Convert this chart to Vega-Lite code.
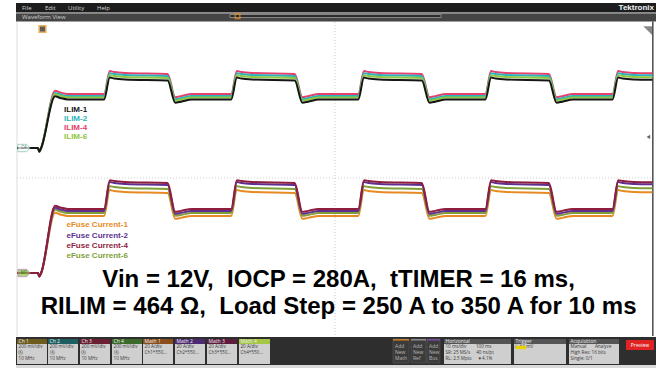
{
"$schema":"https://vega.github.io/schema/vega-lite/v6.json",
"width":656,"height":368,
"autosize":{"type":"fit","contains":"padding"},
"padding":0,
"background":"white",
"config":{"view":{"stroke":null},"axis":{"disable":true},"legend":{"disable":true}},
"resolve":{"scale":{"color":"independent"}},
"data":{"values":[{}]},
"datasets":{
"wave":[
{"t":0,"I1":0.987,"I2":0.987,"I4":0.987,"I6":0.987,"E1":-2.994,"E2":-2.994,"E4":-2.994,"E6":-2.994},
{"t":3.3,"I1":0.987,"I2":0.987,"I4":0.987,"I6":0.987,"E1":-2.994,"E2":-2.994,"E4":-2.994,"E6":-2.994},
{"t":3.5,"I1":0.867,"I2":0.867,"I4":0.867,"I6":0.867,"E1":-3.104,"E2":-3.104,"E4":-3.104,"E6":-3.104},
{"t":3.8,"I1":0.987,"I2":0.987,"I4":0.987,"I6":0.987,"E1":-2.994,"E2":-2.994,"E4":-2.994,"E6":-2.994},
{"t":6.0,"I1":2.632,"I2":2.743,"I4":2.807,"I6":2.696,"E1":-1.078,"E2":-0.919,"E4":-0.855,"E6":-0.983},
{"t":6.8,"I1":2.582,"I2":2.693,"I4":2.757,"I6":2.646,"E1":-1.128,"E2":-0.969,"E4":-0.905,"E6":-1.033},
{"t":8.0,"I1":2.532,"I2":2.643,"I4":2.707,"I6":2.596,"E1":-1.178,"E2":-1.019,"E4":-0.955,"E6":-1.083},
{"t":13.7,"I1":2.532,"I2":2.643,"I4":2.707,"I6":2.596,"E1":-1.178,"E2":-1.019,"E4":-0.955,"E6":-1.083},
{"t":14.6,"I1":3.229,"I2":3.372,"I4":3.436,"I6":3.308,"E1":-0.354,"E2":-0.099,"E4":-0.036,"E6":-0.227},
{"t":15.3,"I1":3.199,"I2":3.342,"I4":3.406,"I6":3.278,"E1":-0.384,"E2":-0.129,"E4":-0.066,"E6":-0.257},
{"t":17.0,"I1":3.169,"I2":3.312,"I4":3.376,"I6":3.248,"E1":-0.414,"E2":-0.159,"E4":-0.096,"E6":-0.287},
{"t":23.7,"I1":3.139,"I2":3.282,"I4":3.346,"I6":3.218,"E1":-0.444,"E2":-0.189,"E4":-0.126,"E6":-0.317},
{"t":24.9,"I1":2.432,"I2":2.543,"I4":2.607,"I6":2.496,"E1":-1.268,"E2":-1.109,"E4":-1.045,"E6":-1.173},
{"t":25.8,"I1":2.462,"I2":2.573,"I4":2.637,"I6":2.526,"E1":-1.238,"E2":-1.079,"E4":-1.015,"E6":-1.143},
{"t":27.5,"I1":2.532,"I2":2.643,"I4":2.707,"I6":2.596,"E1":-1.178,"E2":-1.019,"E4":-0.955,"E6":-1.083},
{"t":33.7,"I1":2.532,"I2":2.643,"I4":2.707,"I6":2.596,"E1":-1.178,"E2":-1.019,"E4":-0.955,"E6":-1.083},
{"t":34.6,"I1":3.229,"I2":3.372,"I4":3.436,"I6":3.308,"E1":-0.354,"E2":-0.099,"E4":-0.036,"E6":-0.227},
{"t":35.3,"I1":3.199,"I2":3.342,"I4":3.406,"I6":3.278,"E1":-0.384,"E2":-0.129,"E4":-0.066,"E6":-0.257},
{"t":37.0,"I1":3.169,"I2":3.312,"I4":3.376,"I6":3.248,"E1":-0.414,"E2":-0.159,"E4":-0.096,"E6":-0.287},
{"t":43.7,"I1":3.139,"I2":3.282,"I4":3.346,"I6":3.218,"E1":-0.444,"E2":-0.189,"E4":-0.126,"E6":-0.317},
{"t":44.9,"I1":2.432,"I2":2.543,"I4":2.607,"I6":2.496,"E1":-1.268,"E2":-1.109,"E4":-1.045,"E6":-1.173},
{"t":45.8,"I1":2.462,"I2":2.573,"I4":2.637,"I6":2.526,"E1":-1.238,"E2":-1.079,"E4":-1.015,"E6":-1.143},
{"t":47.5,"I1":2.532,"I2":2.643,"I4":2.707,"I6":2.596,"E1":-1.178,"E2":-1.019,"E4":-0.955,"E6":-1.083},
{"t":53.7,"I1":2.532,"I2":2.643,"I4":2.707,"I6":2.596,"E1":-1.178,"E2":-1.019,"E4":-0.955,"E6":-1.083},
{"t":54.6,"I1":3.229,"I2":3.372,"I4":3.436,"I6":3.308,"E1":-0.354,"E2":-0.099,"E4":-0.036,"E6":-0.227},
{"t":55.3,"I1":3.199,"I2":3.342,"I4":3.406,"I6":3.278,"E1":-0.384,"E2":-0.129,"E4":-0.066,"E6":-0.257},
{"t":57.0,"I1":3.169,"I2":3.312,"I4":3.376,"I6":3.248,"E1":-0.414,"E2":-0.159,"E4":-0.096,"E6":-0.287},
{"t":63.7,"I1":3.139,"I2":3.282,"I4":3.346,"I6":3.218,"E1":-0.444,"E2":-0.189,"E4":-0.126,"E6":-0.317},
{"t":64.9,"I1":2.432,"I2":2.543,"I4":2.607,"I6":2.496,"E1":-1.268,"E2":-1.109,"E4":-1.045,"E6":-1.173},
{"t":65.8,"I1":2.462,"I2":2.573,"I4":2.637,"I6":2.526,"E1":-1.238,"E2":-1.079,"E4":-1.015,"E6":-1.143},
{"t":67.5,"I1":2.532,"I2":2.643,"I4":2.707,"I6":2.596,"E1":-1.178,"E2":-1.019,"E4":-0.955,"E6":-1.083},
{"t":73.7,"I1":2.532,"I2":2.643,"I4":2.707,"I6":2.596,"E1":-1.178,"E2":-1.019,"E4":-0.955,"E6":-1.083},
{"t":74.6,"I1":3.229,"I2":3.372,"I4":3.436,"I6":3.308,"E1":-0.354,"E2":-0.099,"E4":-0.036,"E6":-0.227},
{"t":75.3,"I1":3.199,"I2":3.342,"I4":3.406,"I6":3.278,"E1":-0.384,"E2":-0.129,"E4":-0.066,"E6":-0.257},
{"t":77.0,"I1":3.169,"I2":3.312,"I4":3.376,"I6":3.248,"E1":-0.414,"E2":-0.159,"E4":-0.096,"E6":-0.287},
{"t":83.7,"I1":3.139,"I2":3.282,"I4":3.346,"I6":3.218,"E1":-0.444,"E2":-0.189,"E4":-0.126,"E6":-0.317},
{"t":84.9,"I1":2.432,"I2":2.543,"I4":2.607,"I6":2.496,"E1":-1.268,"E2":-1.109,"E4":-1.045,"E6":-1.173},
{"t":85.8,"I1":2.462,"I2":2.573,"I4":2.637,"I6":2.526,"E1":-1.238,"E2":-1.079,"E4":-1.015,"E6":-1.143},
{"t":87.5,"I1":2.532,"I2":2.643,"I4":2.707,"I6":2.596,"E1":-1.178,"E2":-1.019,"E4":-0.955,"E6":-1.083},
{"t":93.7,"I1":2.532,"I2":2.643,"I4":2.707,"I6":2.596,"E1":-1.178,"E2":-1.019,"E4":-0.955,"E6":-1.083},
{"t":94.6,"I1":3.229,"I2":3.372,"I4":3.436,"I6":3.308,"E1":-0.354,"E2":-0.099,"E4":-0.036,"E6":-0.227},
{"t":95.3,"I1":3.199,"I2":3.342,"I4":3.406,"I6":3.278,"E1":-0.384,"E2":-0.129,"E4":-0.066,"E6":-0.257},
{"t":97.0,"I1":3.169,"I2":3.312,"I4":3.376,"I6":3.248,"E1":-0.414,"E2":-0.159,"E4":-0.096,"E6":-0.287},
{"t":100.0,"I1":3.159,"I2":3.302,"I4":3.366,"I6":3.238,"E1":-0.424,"E2":-0.169,"E4":-0.106,"E6":-0.297}
],
"labels":[
{"code":"I1","label":"ILIM-1","t":7.4,"v":2.197},
{"code":"I2","label":"ILIM-2","t":7.4,"v":1.911},
{"code":"I4","label":"ILIM-4","t":7.4,"v":1.624},
{"code":"I6","label":"ILIM-6","t":7.4,"v":1.338},
{"code":"E1","label":"eFuse Current-1","t":7.79,"v":-1.465},
{"code":"E2","label":"eFuse Current-2","t":7.79,"v":-1.815},
{"code":"E4","label":"eFuse Current-4","t":7.79,"v":-2.134},
{"code":"E6","label":"eFuse Current-6","t":7.79,"v":-2.452}
],
"notes":[
{"line":"Vin = 12V,\u00a0 IOCP = 280A,\u00a0 tTIMER = 16 ms,","t":50.6,"v":-3.439},
{"line":"RILIM = 464 Ω,\u00a0 Load Step = 250 A to 350 A for 10 ms","t":50.6,"v":-4.299}
],
"menu":[
{"label":"File","t":0.79},{"label":"Edit","t":4.41},{"label":"Utility","t":8.03},{"label":"Help","t":12.59}
],
"tags":[
{"tag":"C4","t":1.1,"v":0.987},{"tag":"M1","t":1.1,"v":-2.994}
],
"boxes":[
{"name":"Ch 1","t0":0,"t1":4.72,"l1":"200 mV/div","l2":"Ⓐ","l3":"10 MHz"},
{"name":"Ch 2","t0":4.88,"t1":9.6,"l1":"200 mV/div","l2":"Ⓐ","l3":"10 MHz"},
{"name":"Ch 3","t0":9.91,"t1":14.63,"l1":"200 mV/div","l2":"Ⓐ","l3":"10 MHz"},
{"name":"Ch 4","t0":14.95,"t1":19.67,"l1":"200 mV/div","l2":"Ⓐ","l3":"10 MHz"},
{"name":"Math 1","t0":19.83,"t1":24.55,"l1":"20 A/div","l2":"Ch1*550...","l3":""},
{"name":"Math 2","t0":24.86,"t1":29.58,"l1":"20 A/div","l2":"Ch2*550...","l3":""},
{"name":"Math 3","t0":29.9,"t1":34.62,"l1":"20 A/div","l2":"Ch3*550...","l3":""},
{"name":"Math 4","t0":34.93,"t1":39.81,"l1":"20 A/div","l2":"Ch4*550...","l3":""},
{"name":"Horizontal","t0":67.19,"t1":77.73,"l1":"10 ms/div\u00a0\u00a0\u00a0\u00a0\u00a0\u00a0\u00a0 100 ms","l2":"SR: 25 MS/s\u00a0\u00a0\u00a0\u00a0 40 ns/pt","l3":"RL: 2.5 Mpts\u00a0\u00a0\u00a0\u00a0 ▼4.1%"},
{"name":"Trigger","t0":78.21,"t1":86.39,"l1":"\u00a0\u00a0\u00a0\u00a0\u00a0\u00a0\u00a0\u00a0 ⁄\u00a0\u00a0 64 mV","l2":"","l3":""},
{"name":"Acquisition","t0":86.86,"t1":94.73,"l1":"Manual\u00a0\u00a0\u00a0\u00a0\u00a0\u00a0 Analyze","l2":"High Res: 16 bits","l3":"Single: 0/1"}
],
"addnew":[
{"name":"Math","t0":59.17,"t1":61.7},{"name":"Ref","t0":62.0,"t1":64.36},{"name":"Bus","t0":64.52,"t1":66.56}
]
},
"layer":[
{"mark":{"type":"rect","color":"#1d1d1d"},"encoding":{"x":{"datum":-0.157,"scale":{"domain":[-2.675,100.55],"nice":false,"zero":false}},"x2":{"datum":100.55},"y":{"datum":5.605,"scale":{"domain":[-6.019,5.701],"nice":false,"zero":false}},"y2":{"datum":5.318}}},
{"mark":{"type":"rect","color":"#8a8a8a"},"encoding":{"x":{"datum":-0.157,"scale":{"domain":[-2.675,100.55],"nice":false,"zero":false}},"x2":{"datum":100.55},"y":{"datum":5.318,"scale":{"domain":[-6.019,5.701],"nice":false,"zero":false}},"y2":{"datum":5.27}}},
{"mark":{"type":"rect","color":"#454545"},"encoding":{"x":{"datum":-0.157,"scale":{"domain":[-2.675,100.55],"nice":false,"zero":false}},"x2":{"datum":100.55},"y":{"datum":5.27,"scale":{"domain":[-6.019,5.701],"nice":false,"zero":false}},"y2":{"datum":5.016}}},
{"mark":{"type":"rect","fill":"#2c2c2c","stroke":"#9a9a9a","strokeWidth":0.8},"encoding":{"x":{"datum":33.52,"scale":{"domain":[-2.675,100.55],"nice":false,"zero":false}},"x2":{"datum":66.72},"y":{"datum":5.239,"scale":{"domain":[-6.019,5.701],"nice":false,"zero":false}},"y2":{"datum":5.143}}},
{"mark":{"type":"point","shape":"square","size":22,"filled":false,"color":"#e8901c","strokeWidth":1.5},"encoding":{"x":{"datum":34.7,"scale":{"domain":[-2.675,100.55],"nice":false,"zero":false}},"y":{"datum":5.19,"scale":{"domain":[-6.019,5.701],"nice":false,"zero":false}}}},
{"data":{"name":"menu"},"mark":{"type":"text","align":"left","baseline":"middle","fontSize":6,"font":"Open Sans","color":"#d8d8d8"},"encoding":{"x":{"field":"t","type":"quantitative","scale":{"domain":[-2.675,100.55],"nice":false,"zero":false}},"y":{"datum":5.462,"scale":{"domain":[-6.019,5.701],"nice":false,"zero":false}},"text":{"field":"label"}}},
{"mark":{"type":"text","align":"right","baseline":"middle","fontSize":8,"fontWeight":"bold","font":"Liberation Sans","color":"#f2f2f2"},"encoding":{"x":{"datum":100.24,"scale":{"domain":[-2.675,100.55],"nice":false,"zero":false}},"y":{"datum":5.45,"scale":{"domain":[-6.019,5.701],"nice":false,"zero":false}},"text":{"value":"Tektronix"}}},
{"mark":{"type":"text","align":"left","baseline":"middle","fontSize":6,"font":"Open Sans","color":"#cfcfcf"},"encoding":{"x":{"datum":0.79,"scale":{"domain":[-2.675,100.55],"nice":false,"zero":false}},"y":{"datum":5.159,"scale":{"domain":[-6.019,5.701],"nice":false,"zero":false}},"text":{"value":"Waveform View"}}},
{"mark":{"type":"rule","color":"#dddddd","strokeWidth":1},"encoding":{"x":{"datum":0,"scale":{"domain":[-2.675,100.55],"nice":false,"zero":false}},"y":{"datum":5.0,"scale":{"domain":[-6.019,5.701],"nice":false,"zero":false}},"y2":{"datum":-5.0}}},
{"mark":{"type":"rule","color":"#cccccc","strokeWidth":1,"strokeDash":[1,2]},"encoding":{"x":{"datum":50.04,"scale":{"domain":[-2.675,100.55],"nice":false,"zero":false}},"y":{"datum":5.0,"scale":{"domain":[-6.019,5.701],"nice":false,"zero":false}},"y2":{"datum":-5.0}}},
{"mark":{"type":"rule","color":"#cccccc","strokeWidth":1,"strokeDash":[1,2]},"encoding":{"x":{"datum":0,"scale":{"domain":[-2.675,100.55],"nice":false,"zero":false}},"x2":{"datum":100},"y":{"datum":0.03,"scale":{"domain":[-6.019,5.701],"nice":false,"zero":false}}}},
{"mark":{"type":"rule","color":"#4a4a4a","strokeWidth":1.5},"encoding":{"x":{"datum":100.05,"scale":{"domain":[-2.675,100.55],"nice":false,"zero":false}},"y":{"datum":5.016,"scale":{"domain":[-6.019,5.701],"nice":false,"zero":false}},"y2":{"datum":-5.0}}},
{"data":{"name":"wave"},"transform":[{"fold":["I4","I2","I6","I1","E1","E6","E2","E4"],"as":["code","val"]}],"mark":{"type":"line","strokeWidth":2,"strokeJoin":"round","interpolate":"monotone"},"encoding":{"x":{"field":"t","type":"quantitative","scale":{"domain":[-2.675,100.55],"nice":false,"zero":false}},"y":{"field":"val","type":"quantitative","scale":{"domain":[-6.019,5.701],"nice":false,"zero":false}},"color":{"field":"code","type":"nominal","scale":{"domain":["I1","I2","I4","I6","E1","E2","E4","E6"],"range":["#151515","#2bb3bd","#e6406c","#8fc640","#e88a22","#5e2f8f","#8f1d3e","#809f3a"]}}}},
{"data":{"name":"labels"},"mark":{"type":"text","align":"left","baseline":"middle","fontSize":8,"fontWeight":"bold","font":"Liberation Sans"},"encoding":{"x":{"field":"t","type":"quantitative","scale":{"domain":[-2.675,100.55],"nice":false,"zero":false}},"y":{"field":"v","type":"quantitative","scale":{"domain":[-6.019,5.701],"nice":false,"zero":false}},"text":{"field":"label"},"color":{"field":"code","type":"nominal","scale":{"domain":["I1","I2","I4","I6","E1","E2","E4","E6"],"range":["#151515","#2bb3bd","#e6406c","#8fc640","#e88a22","#5e2f8f","#8f1d3e","#809f3a"]}}}},
{"data":{"name":"notes"},"mark":{"type":"text","align":"center","baseline":"alphabetic","fontSize":24,"fontWeight":"bold","font":"Liberation Sans","color":"#000000"},"encoding":{"x":{"field":"t","type":"quantitative","scale":{"domain":[-2.675,100.55],"nice":false,"zero":false}},"y":{"field":"v","type":"quantitative","scale":{"domain":[-6.019,5.701],"nice":false,"zero":false}},"text":{"field":"line"}}},
{"data":{"name":"tags"},"mark":{"type":"point","shape":"M-1,-0.6L0.45,-0.6L1,0L0.45,0.6L-1,0.6Z","size":150,"filled":true,"strokeWidth":1},"encoding":{"x":{"field":"t","type":"quantitative","scale":{"domain":[-2.675,100.55],"nice":false,"zero":false}},"y":{"field":"v","type":"quantitative","scale":{"domain":[-6.019,5.701],"nice":false,"zero":false}},"fill":{"field":"tag","type":"nominal","scale":{"domain":["C4","M1"],"range":["#ffffff","#8cc23e"]}},"stroke":{"field":"tag","type":"nominal","scale":{"domain":["C4","M1"],"range":["#7cc0a8","#b07ab0"]}}}},
{"data":{"name":"tags"},"mark":{"type":"text","align":"center","baseline":"middle","fontSize":4.5,"font":"Open Sans","color":"#3b6b4b"},"encoding":{"x":{"field":"t","type":"quantitative","scale":{"domain":[-2.675,100.55],"nice":false,"zero":false}},"y":{"field":"v","type":"quantitative","scale":{"domain":[-6.019,5.701],"nice":false,"zero":false}},"text":{"field":"tag"}}},
{"mark":{"type":"point","shape":"square","size":45,"filled":true,"fill":"#1a1a1a","stroke":"#e8901c","strokeWidth":1.5},"encoding":{"x":{"datum":4.01,"scale":{"domain":[-2.675,100.55],"nice":false,"zero":false}},"y":{"datum":4.777,"scale":{"domain":[-6.019,5.701],"nice":false,"zero":false}}}},
{"mark":{"type":"point","shape":"M1,-1L1,1L-1,-1Z","size":90,"filled":true,"color":"#555555"},"encoding":{"x":{"datum":99.3,"scale":{"domain":[-2.675,100.55],"nice":false,"zero":false}},"y":{"datum":4.713,"scale":{"domain":[-6.019,5.701],"nice":false,"zero":false}}}},
{"mark":{"type":"point","shape":"triangle-left","size":18,"filled":true,"color":"#222222"},"encoding":{"x":{"datum":99.35,"scale":{"domain":[-2.675,100.55],"nice":false,"zero":false}},"y":{"datum":1.338,"scale":{"domain":[-6.019,5.701],"nice":false,"zero":false}}}},
{"mark":{"type":"rect","color":"#2e2e2e"},"encoding":{"x":{"datum":-0.157,"scale":{"domain":[-2.675,100.55],"nice":false,"zero":false}},"x2":{"datum":100.55},"y":{"datum":-5.032,"scale":{"domain":[-6.019,5.701],"nice":false,"zero":false}},"y2":{"datum":-5.924}}},
{"mark":{"type":"rect","color":"#dadada"},"encoding":{"x":{"datum":-0.157,"scale":{"domain":[-2.675,100.55],"nice":false,"zero":false}},"x2":{"datum":100.55},"y":{"datum":-5.924,"scale":{"domain":[-6.019,5.701],"nice":false,"zero":false}},"y2":{"datum":-6.019}}},
{"data":{"name":"boxes"},"mark":{"type":"rect","color":"#cfcfcf"},"encoding":{"x":{"field":"t0","type":"quantitative","scale":{"domain":[-2.675,100.55],"nice":false,"zero":false}},"x2":{"field":"t1"},"y":{"datum":-5.255,"scale":{"domain":[-6.019,5.701],"nice":false,"zero":false}},"y2":{"datum":-5.892}}},
{"data":{"name":"boxes"},"mark":{"type":"rect"},"encoding":{"x":{"field":"t0","type":"quantitative","scale":{"domain":[-2.675,100.55],"nice":false,"zero":false}},"x2":{"field":"t1"},"y":{"datum":-5.096,"scale":{"domain":[-6.019,5.701],"nice":false,"zero":false}},"y2":{"datum":-5.255},"color":{"field":"name","type":"nominal","scale":{"domain":["Ch 1","Ch 2","Ch 3","Ch 4","Math 1","Math 2","Math 3","Math 4","Horizontal","Trigger","Acquisition"],"range":["#6e5c1e","#1d5e63","#6b1f33","#3b6a2a","#8a4e1c","#4b2a72","#5c1c3e","#a5c544","#555555","#555555","#555555"]}}}},
{"data":{"name":"boxes"},"mark":{"type":"text","align":"left","baseline":"middle","dx":1.5,"fontSize":5,"font":"Open Sans","color":"#eeeeee"},"encoding":{"x":{"field":"t0","type":"quantitative","scale":{"domain":[-2.675,100.55],"nice":false,"zero":false}},"y":{"datum":-5.175,"scale":{"domain":[-6.019,5.701],"nice":false,"zero":false}},"text":{"field":"name"}}},
{"data":{"name":"boxes"},"mark":{"type":"text","align":"left","baseline":"middle","dx":1.5,"fontSize":4.6,"font":"Open Sans","color":"#3a3a3a"},"encoding":{"x":{"field":"t0","type":"quantitative","scale":{"domain":[-2.675,100.55],"nice":false,"zero":false}},"y":{"datum":-5.366,"scale":{"domain":[-6.019,5.701],"nice":false,"zero":false}},"text":{"field":"l1"}}},
{"data":{"name":"boxes"},"mark":{"type":"text","align":"left","baseline":"middle","dx":1.5,"fontSize":4.6,"font":"Open Sans","color":"#3a3a3a"},"encoding":{"x":{"field":"t0","type":"quantitative","scale":{"domain":[-2.675,100.55],"nice":false,"zero":false}},"y":{"datum":-5.541,"scale":{"domain":[-6.019,5.701],"nice":false,"zero":false}},"text":{"field":"l2"}}},
{"data":{"name":"boxes"},"mark":{"type":"text","align":"left","baseline":"middle","dx":1.5,"fontSize":4.6,"font":"Open Sans","color":"#3a3a3a"},"encoding":{"x":{"field":"t0","type":"quantitative","scale":{"domain":[-2.675,100.55],"nice":false,"zero":false}},"y":{"datum":-5.748,"scale":{"domain":[-6.019,5.701],"nice":false,"zero":false}},"text":{"field":"l3"}}},
{"mark":{"type":"rect","color":"#e8d200"},"encoding":{"x":{"datum":78.5,"scale":{"domain":[-2.675,100.55],"nice":false,"zero":false}},"x2":{"datum":80.1},"y":{"datum":-5.31,"scale":{"domain":[-6.019,5.701],"nice":false,"zero":false}},"y2":{"datum":-5.42}}},
{"data":{"name":"addnew"},"mark":{"type":"rect","fill":"#3b3b3b","stroke":"#5a5a5a","strokeWidth":0.6},"encoding":{"x":{"field":"t0","type":"quantitative","scale":{"domain":[-2.675,100.55],"nice":false,"zero":false}},"x2":{"field":"t1"},"y":{"datum":-5.096,"scale":{"domain":[-6.019,5.701],"nice":false,"zero":false}},"y2":{"datum":-5.86}}},
{"data":{"name":"addnew"},"mark":{"type":"rect"},"encoding":{"x":{"field":"t0","type":"quantitative","scale":{"domain":[-2.675,100.55],"nice":false,"zero":false}},"x2":{"field":"t1"},"y":{"datum":-5.096,"scale":{"domain":[-6.019,5.701],"nice":false,"zero":false}},"y2":{"datum":-5.145},"color":{"field":"name","type":"nominal","scale":{"domain":["Math","Ref","Bus"],"range":["#c87a2a","#8a8a8a","#7a4aa0"]}}}},
{"data":{"name":"addnew"},"mark":{"type":"text","align":"left","baseline":"middle","dx":2,"fontSize":5,"font":"Open Sans","color":"#b8b8b8"},"encoding":{"x":{"field":"t0","type":"quantitative","scale":{"domain":[-2.675,100.55],"nice":false,"zero":false}},"y":{"datum":-5.32,"scale":{"domain":[-6.019,5.701],"nice":false,"zero":false}},"text":{"value":"Add"}}},
{"data":{"name":"addnew"},"mark":{"type":"text","align":"left","baseline":"middle","dx":2,"fontSize":5,"font":"Open Sans","color":"#b8b8b8"},"encoding":{"x":{"field":"t0","type":"quantitative","scale":{"domain":[-2.675,100.55],"nice":false,"zero":false}},"y":{"datum":-5.51,"scale":{"domain":[-6.019,5.701],"nice":false,"zero":false}},"text":{"value":"New"}}},
{"data":{"name":"addnew"},"mark":{"type":"text","align":"left","baseline":"middle","dx":2,"fontSize":5,"font":"Open Sans","color":"#b8b8b8"},"encoding":{"x":{"field":"t0","type":"quantitative","scale":{"domain":[-2.675,100.55],"nice":false,"zero":false}},"y":{"datum":-5.70,"scale":{"domain":[-6.019,5.701],"nice":false,"zero":false}},"text":{"field":"name"}}},
{"mark":{"type":"rect","color":"#e02222"},"encoding":{"x":{"datum":95.83,"scale":{"domain":[-2.675,100.55],"nice":false,"zero":false}},"x2":{"datum":100.24},"y":{"datum":-5.127,"scale":{"domain":[-6.019,5.701],"nice":false,"zero":false}},"y2":{"datum":-5.446}}},
{"mark":{"type":"text","align":"center","baseline":"middle","fontSize":5,"font":"Open Sans","color":"#ffffff"},"encoding":{"x":{"datum":98.03,"scale":{"domain":[-2.675,100.55],"nice":false,"zero":false}},"y":{"datum":-5.29,"scale":{"domain":[-6.019,5.701],"nice":false,"zero":false}},"text":{"value":"Preview"}}}
]
}
